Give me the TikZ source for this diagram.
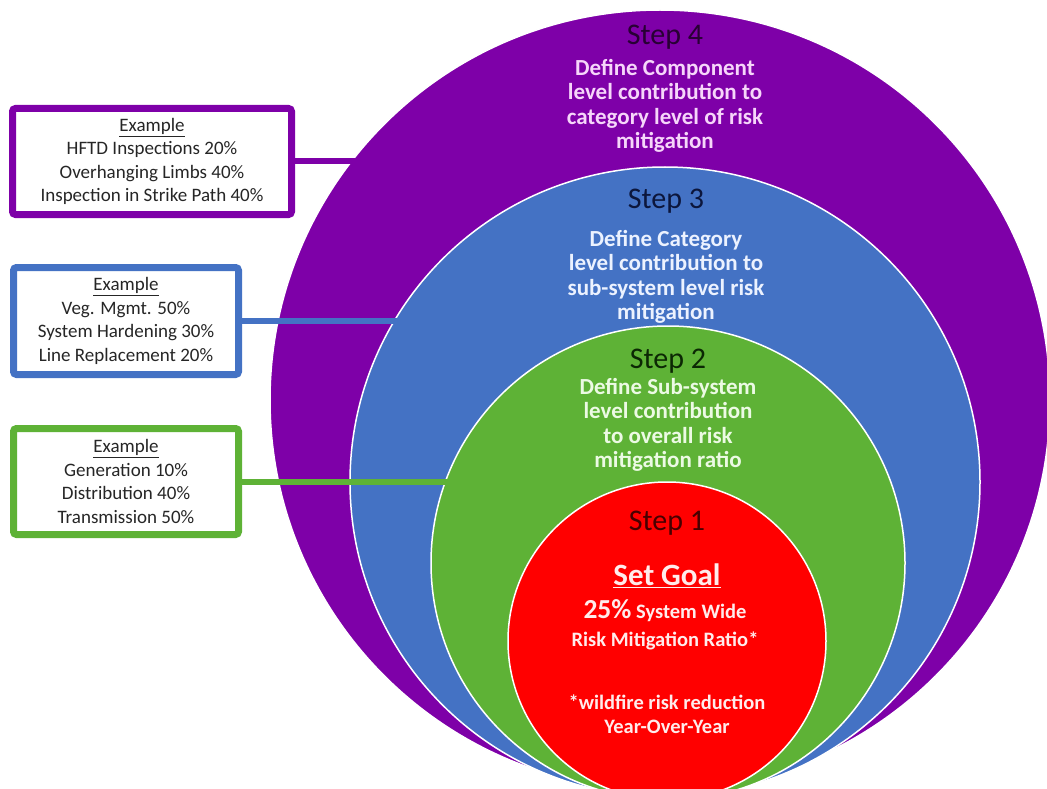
\documentclass[tikz,border=0pt]{standalone}
\usepackage{fontspec}
\setmainfont{Carlito}

\definecolor{stepfour}{RGB}{126,0,168}
\definecolor{stepthree}{RGB}{68,114,196}
\definecolor{steptwo}{RGB}{94,178,54}
\definecolor{stepone}{RGB}{255,0,0}
\definecolor{darkfour}{RGB}{40,0,52}
\definecolor{darkthree}{RGB}{12,22,60}
\definecolor{darktwo}{RGB}{12,40,4}
\definecolor{darkone}{RGB}{72,0,0}
\definecolor{lightfour}{RGB}{246,214,250}
\definecolor{lightthree}{RGB}{236,242,255}
\definecolor{lighttwo}{RGB}{236,250,228}
\definecolor{lightone}{RGB}{255,236,236}

\tikzset{
  ring/.style={circle,inner sep=0pt,outer sep=0pt,draw=white,line width=1.5pt},
  exbox/.style={draw,fill=white,line width=7pt,rounded corners=3pt,inner sep=0pt,
    align=center,text=black!85,font=\fontsize{19}{23.5}\selectfont},
  link/.style={line width=6pt},
  steptitle/.style={inner sep=0pt,font=\fontsize{30}{32}\selectfont},
  stepbody/.style={inner sep=0pt,align=center,font=\bfseries\fontsize{23}{24.5}\selectfont},
}

\begin{document}
\begin{tikzpicture}[x=1pt,y=-1pt]
  \useasboundingbox (0,0) rectangle (1047,789);

  % example boxes
  \node[exbox,draw=stepfour,minimum width=279pt,minimum height=106pt] (ex4) at (152,161.5)
    {\underline{Example}\\HFTD Inspections 20\%\\Overhanging Limbs 40\%\\Inspection in Strike Path 40\%};
  \node[exbox,draw=stepthree,minimum width=225pt,minimum height=107pt] (ex3) at (126,321)
    {\underline{Example}\\Veg. Mgmt. 50\%\\System Hardening 30\%\\Line Replacement 20\%};
  \node[exbox,draw=steptwo,minimum width=225pt,minimum height=106pt] (ex2) at (126,481.5)
    {\underline{Example}\\Generation 10\%\\Distribution 40\%\\Transmission 50\%};

  % nested steps, each link goes under the next ring
  \node[ring,fill=stepfour,minimum size=780pt] (step4) at (660,400) {};
  \draw[link,stepfour] (ex4.east) -- (ex4.east -| step4.center);
  \node[ring,fill=stepthree,minimum size=630pt] (step3) at (665,482) {};
  \draw[link,stepthree] (ex3.east) -- (ex3.east -| step3.center);
  \node[ring,fill=steptwo,minimum size=474pt] (step2) at (668,563) {};
  \draw[link,steptwo] (ex2.east) -- (ex2.east -| step2.center);
  \node[ring,fill=stepone,minimum size=318pt] (step1) at (667,641) {};

  % texts
  \node[steptitle,text=darkfour] (t4) at (665,37) {Step 4};
  \node[stepbody,text=lightfour] (d4) at (665,106)
    {Define Component\\level contribution to\\category level of risk\\mitigation};
  \node[steptitle,text=darkthree] (t3) at (666,201) {Step 3};
  \node[stepbody,text=lightthree] (d3) at (666,277)
    {Define Category\\level contribution to\\sub-system level risk\\mitigation};
  \node[steptitle,text=darktwo] (t2) at (668,361) {Step 2};
  \node[stepbody,text=lighttwo] (d2) at (668,425)
    {Define Sub-system\\level contribution\\to overall risk\\mitigation ratio};
  \node[steptitle,text=darkone] (t1) at (667,523) {Step 1};
  \node[stepbody,text=lightone,font=\bfseries\fontsize{31}{33}\selectfont] (goal) at (667,576)
    {\underline{Set Goal}};
  \node[stepbody,text=lightone,font=\bfseries\fontsize{20.5}{28}\selectfont] (ratio) at (665,625)
    {{\fontsize{27.5}{28}\selectfont 25\%} System Wide\\Risk Mitigation Ratio*};
  \node[stepbody,text=lightone,font=\bfseries\fontsize{20.5}{24}\selectfont] (note) at (667,714)
    {*wildfire risk reduction\\Year-Over-Year};
\end{tikzpicture}
\end{document}
